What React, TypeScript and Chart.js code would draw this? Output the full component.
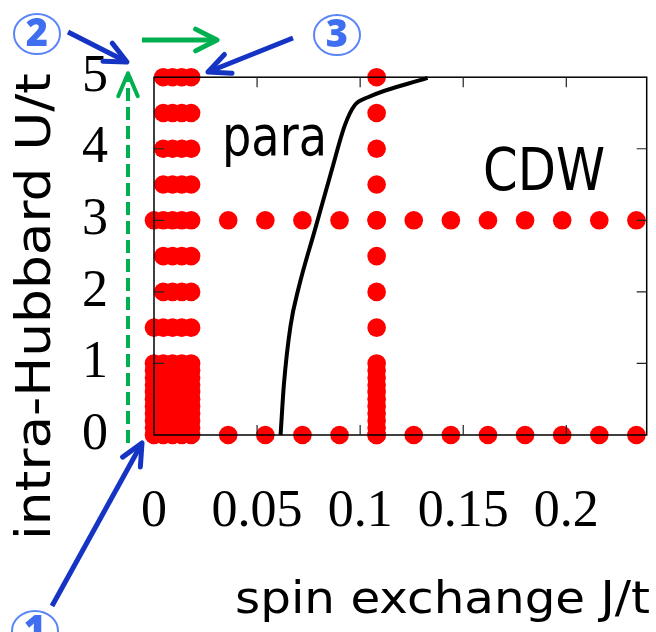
import React, { useEffect, useRef } from "react";
import { Chart, registerables } from "chart.js";

Chart.register(...registerables);

// ---- axis ticks ----
const xTickValues = [0, 0.05, 0.1, 0.15, 0.2];
const xTickLabels = ["0", "0.05", "0.1", "0.15", "0.2"];
const yTickValues = [0, 1, 2, 3, 4, 5];
const yTickLabels = ["0", "1", "2", "3", "4", "5"];

// ---- red computed points ----
const leftColumnsJ = [0.0045, 0.009, 0.0135, 0.018];
const leftRowsU = [1.5, 2, 2.5, 3, 3.5, 4, 4.5, 5];
const lowBlockU = [0, 0.1, 0.2, 0.3, 0.4, 0.5, 0.6, 0.7, 0.8, 0.9, 1.0];
const zeroColumnExtraU = [1.5, 3];
const coarseJ = [0.036, 0.054, 0.072, 0.09, 0.108, 0.126, 0.144, 0.162, 0.18, 0.198, 0.216, 0.234];
const coarseRowsU = [0, 3];
const midColumnJ = [0.108];
const midColumnU = [0, 0.1, 0.2, 0.3, 0.4, 0.5, 0.6, 0.7, 0.8, 0.9, 1.0, 1.5, 2, 2.5, 3, 3.5, 4, 4.5, 5];

// ---- phase boundary (black line) ----
const boundaryJ = [0.0614, 0.063, 0.0662, 0.0702, 0.0782, 0.0862, 0.0926, 0.0974, 0.1038, 0.1327];
const boundaryU = [0, 0.7, 1.52, 2.06, 2.88, 3.7, 4.33, 4.61, 4.72, 4.99];

const X_MIN = 0;
const X_MAX = 0.239;
const Y_MIN = 0;
const Y_MAX = 5;

function buildPoints() {
  const pts: { x: number; y: number }[] = [];
  for (const j of leftColumnsJ) {
    for (const u of lowBlockU) pts.push({ x: j, y: u });
    for (const u of leftRowsU) pts.push({ x: j, y: u });
  }
  for (const u of lowBlockU) pts.push({ x: 0, y: u });
  for (const u of zeroColumnExtraU) pts.push({ x: 0, y: u });
  for (const u of coarseRowsU) for (const j of coarseJ) pts.push({ x: j, y: u });
  for (const j of midColumnJ) for (const u of midColumnU) pts.push({ x: j, y: u });
  return pts;
}

function arrow(
  ctx: CanvasRenderingContext2D,
  x0: number, y0: number, x1: number, y1: number,
  color: string, width: number, headLen: number, headAng: number, dash?: number[]
) {
  ctx.save();
  ctx.strokeStyle = color;
  ctx.lineWidth = width;
  ctx.lineCap = "butt";
  ctx.lineJoin = "round";
  if (dash) ctx.setLineDash(dash);
  ctx.beginPath();
  ctx.moveTo(x0, y0);
  ctx.lineTo(x1, y1);
  ctx.stroke();
  ctx.setLineDash([]);
  ctx.lineCap = "round";
  const a = Math.atan2(y0 - y1, x0 - x1);
  const r = (headAng * Math.PI) / 180;
  ctx.beginPath();
  ctx.moveTo(x1 + headLen * Math.cos(a + r), y1 + headLen * Math.sin(a + r));
  ctx.lineTo(x1, y1);
  ctx.lineTo(x1 + headLen * Math.cos(a - r), y1 + headLen * Math.sin(a - r));
  ctx.stroke();
  ctx.restore();
}

function fitText(
  ctx: CanvasRenderingContext2D, text: string, font: string,
  x: number, y: number, targetWidth: number, rotate = 0
) {
  ctx.save();
  ctx.font = font;
  ctx.fillStyle = "#000";
  ctx.textAlign = "left";
  ctx.textBaseline = "alphabetic";
  const w = ctx.measureText(text).width;
  ctx.translate(x, y);
  if (rotate) ctx.rotate(rotate);
  ctx.scale(targetWidth / w, 1);
  ctx.fillText(text, 0, 0);
  ctx.restore();
}

function circledDigit(ctx: CanvasRenderingContext2D, cx: number, cy: number, digit: string) {
  ctx.save();
  ctx.strokeStyle = "#5b86f7";
  ctx.lineWidth = 2;
  ctx.beginPath();
  ctx.ellipse(cx, cy, 23, 20, 0, 0, Math.PI * 2);
  ctx.stroke();
  ctx.fillStyle = "#3f6ff0";
  ctx.font = "900 38px 'Noto Sans'";
  ctx.textAlign = "center";
  ctx.textBaseline = "middle";
  ctx.fillText(digit, cx, cy + 1);
  ctx.restore();
}

const framePlugin = {
  id: "frame",
  afterDatasetsDraw(chart: any) {
    const { ctx, chartArea: a, scales } = chart;
    const xs = scales.x;
    const ys = scales.y;
    ctx.save();
    ctx.strokeStyle = "#000";
    ctx.lineWidth = 1.5;
    ctx.strokeRect(a.left, a.top, a.right - a.left, a.bottom - a.top);
    ctx.lineWidth = 1.2;
    ctx.strokeStyle = "#222";
    const L = 10;
    ctx.beginPath();
    for (const v of xTickValues) {
      if (v <= X_MIN) continue;
      const px = xs.getPixelForValue(v);
      ctx.moveTo(px, a.bottom);
      ctx.lineTo(px, a.bottom - L);
      ctx.moveTo(px, a.top);
      ctx.lineTo(px, a.top + L);
    }
    for (const v of yTickValues) {
      if (v <= Y_MIN || v >= Y_MAX) continue;
      const py = ys.getPixelForValue(v);
      ctx.moveTo(a.left, py);
      ctx.lineTo(a.left + L, py);
      ctx.moveTo(a.right, py);
      ctx.lineTo(a.right - L, py);
    }
    ctx.stroke();
    ctx.restore();
  },
};

const annotationPlugin = {
  id: "annotations",
  afterDraw(chart: any) {
    const { ctx, chartArea: a } = chart;
    const blue = "#1634c4";
    const green = "#00b050";
    // region labels
    fitText(ctx, "para", "56px 'DejaVu Sans'", a.left + 68, a.top + 78, 105);
    fitText(ctx, "CDW", "58px 'DejaVu Sans'", a.left + 329, a.top + 113, 122);
    // axis titles
    fitText(ctx, "spin exchange J/t", "44px 'DejaVu Sans'", 235, 613, 415);
    fitText(ctx, "intra-Hubbard U/t", "48px 'DejaVu Sans'", 50, 540, 467, -Math.PI / 2);
    // green arrows
    arrow(ctx, a.left - 26, a.bottom + 8, a.left - 26, a.top - 4, green, 4, 25, 23, [13, 6]);
    arrow(ctx, a.left - 12, 40, a.left + 63, 40, green, 5, 24, 27);
    // blue arrows
    arrow(ctx, 68, 32, 127, 62, blue, 5, 24, 25);
    arrow(ctx, 293, 38, 208, 72, blue, 5, 24, 25);
    arrow(ctx, 52, 606, 142, 443, blue, 5, 24, 25);
    // circled numbers
    circledDigit(ctx, 37, 34, "2");
    circledDigit(ctx, 337, 35, "3");
    circledDigit(ctx, 35, 631, "1");
  },
};

export default function App() {
  const ref = useRef<HTMLCanvasElement | null>(null);

  useEffect(() => {
    if (!ref.current) return;
    const chart = new Chart(ref.current, {
      type: "scatter",
      data: {
        datasets: [
          {
            type: "scatter",
            label: "computed",
            data: buildPoints(),
            backgroundColor: "#ff0000",
            borderColor: "#ff0000",
            borderWidth: 0,
            pointRadius: 9.3,
            pointHoverRadius: 9.3,
            clip: false as any,
            order: 2,
          },
          {
            type: "line",
            label: "boundary",
            data: boundaryJ.map((j, i) => ({ x: j, y: boundaryU[i] })),
            borderColor: "#000",
            borderWidth: 4,
            pointRadius: 0,
            cubicInterpolationMode: "monotone",
            fill: false,
            showLine: true,
            clip: false as any,
            order: 1,
          } as any,
        ],
      },
      options: {
        responsive: false,
        devicePixelRatio: 1,
        animation: false,
        events: [],
        layout: { padding: { left: 0, top: 67, right: 5, bottom: 0 } },
        plugins: {
          legend: { display: false },
          tooltip: { enabled: false },
          title: { display: false },
        },
        scales: {
          x: {
            type: "linear",
            min: X_MIN,
            max: X_MAX,
            grid: { display: false, drawTicks: false },
            border: { display: false },
            afterBuildTicks: (s: any) => {
              s.ticks = xTickValues.map((v) => ({ value: v }));
            },
            afterFit: (s: any) => {
              s.height = 197;
            },
            ticks: {
              autoSkip: false,
              maxRotation: 0,
              padding: 46,
              color: "#000",
              font: { family: "'Liberation Serif'", size: 52 },
              callback: (v: any) => {
                const i = xTickValues.findIndex((t) => Math.abs(t - Number(v)) < 1e-9);
                return i >= 0 ? xTickLabels[i] : "";
              },
            },
          },
          y: {
            type: "linear",
            min: Y_MIN,
            max: Y_MAX,
            grid: { display: false, drawTicks: false },
            border: { display: false },
            afterBuildTicks: (s: any) => {
              s.ticks = yTickValues.map((v) => ({ value: v }));
            },
            afterFit: (s: any) => {
              s.width = 154;
            },
            ticks: {
              autoSkip: false,
              padding: 46,
              color: "#000",
              font: { family: "'Liberation Serif'", size: 52 },
              callback: (v: any) => {
                const i = yTickValues.findIndex((t) => Math.abs(t - Number(v)) < 1e-9);
                return i >= 0 ? yTickLabels[i] : "";
              },
            },
          },
        },
      },
      plugins: [framePlugin, annotationPlugin],
    });
    return () => chart.destroy();
  }, []);

  return (
    <div style={{ position: "fixed", left: 0, top: 0, width: 656, height: 632, background: "#fff" }}>
      <canvas ref={ref} width={656} height={632} style={{ width: 656, height: 632, display: "block" }} />
    </div>
  );
}
